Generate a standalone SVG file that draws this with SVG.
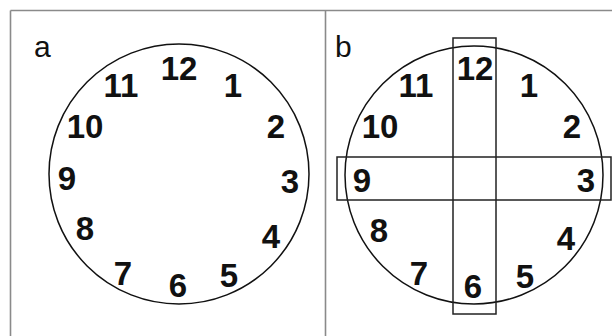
<svg xmlns="http://www.w3.org/2000/svg" width="612" height="336" viewBox="0 0 612 336">
<style>
.frame{stroke:#8a8a8a;stroke-width:1.6;fill:none}
.dial{stroke:#111;stroke-width:1.5;fill:none}
.box{stroke:#222;stroke-width:1.5;fill:none}
.num{font-family:"Liberation Sans",Arial,sans-serif;font-weight:bold;font-size:33px;fill:#111;text-anchor:middle}
.lab{font-family:"Liberation Sans",Arial,sans-serif;font-size:30px;fill:#111}
</style>
<rect width="612" height="336" fill="#fff"/>
<g id="frame">
<line class="frame" x1="10.5" y1="10.5" x2="612" y2="10.5"/>
<line class="frame" x1="10.5" y1="10.5" x2="10.5" y2="336"/>
<line class="frame" x1="325.5" y1="10.5" x2="325.5" y2="336"/>
</g>
<g id="panel-a">
<text class="lab" x="34" y="57">a</text>
<circle class="dial" cx="179" cy="174" r="130"/>
<text class="num" x="179" y="80">12</text>
<text class="num" x="121" y="97">11</text>
<text class="num" x="233" y="97">1</text>
<text class="num" x="85" y="138">10</text>
<text class="num" x="276" y="138">2</text>
<text class="num" x="67" y="190">9</text>
<text class="num" x="290" y="193">3</text>
<text class="num" x="85" y="240">8</text>
<text class="num" x="271" y="248">4</text>
<text class="num" x="123" y="285">7</text>
<text class="num" x="178" y="297">6</text>
<text class="num" x="229" y="287">5</text>
</g>
<g id="panel-b">
<text class="lab" x="335" y="57">b</text>
<circle class="dial" cx="474" cy="175" r="129"/>
<text class="num" x="475" y="80">12</text>
<text class="num" x="416" y="97">11</text>
<text class="num" x="529" y="97">1</text>
<text class="num" x="380" y="138">10</text>
<text class="num" x="572" y="138">2</text>
<text class="num" x="362" y="192">9</text>
<text class="num" x="586" y="192">3</text>
<text class="num" x="379" y="242">8</text>
<text class="num" x="566" y="250">4</text>
<text class="num" x="419" y="285">7</text>
<text class="num" x="473" y="298">6</text>
<text class="num" x="525" y="288">5</text>
</g>
<g id="connectors">
<rect class="box" x="453" y="38" width="43" height="276"/>
<rect class="box" x="337" y="157" width="274" height="43"/>
</g>
</svg>
